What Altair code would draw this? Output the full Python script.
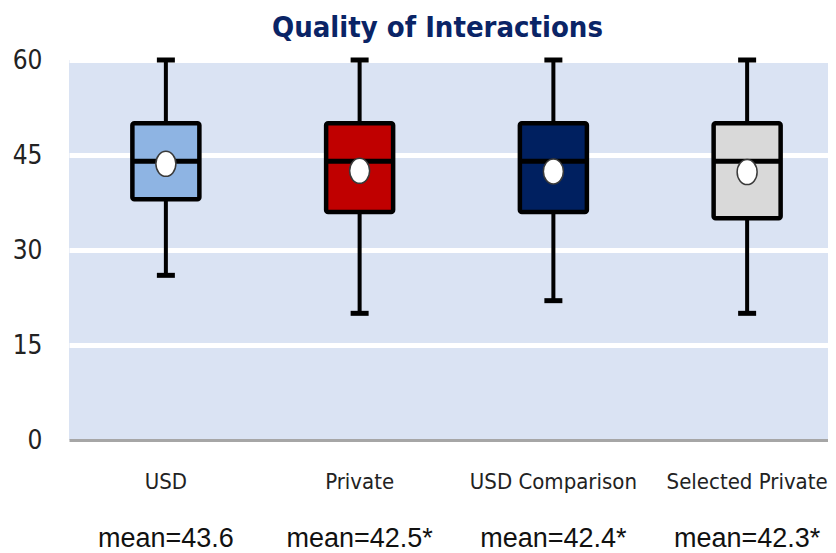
import altair as alt
import pandas as pd

categories = ["USD", "Private", "USD Comparison", "Selected Private"]
whisker_low = [26, 20, 22, 20]
quartile_1 = [38, 36, 36, 35]
medians = [44, 44, 44, 44]
quartile_3 = [50, 50, 50, 50]
whisker_high = [60, 60, 60, 60]
means = [43.6, 42.5, 42.4, 42.3]
mean_labels = ["mean=43.6", "mean=42.5*", "mean=42.4*", "mean=42.3*"]
box_colors = ["#8eb4e3", "#c00000", "#002060", "#d9d9d9"]
y_ticks = [0, 15, 30, 45, 60]

df = pd.DataFrame({
    "cat": categories,
    "lo": whisker_low,
    "q1": quartile_1,
    "med": medians,
    "q3": quartile_3,
    "hi": whisker_high,
    "mean": means,
    "label": mean_labels,
})

LABEL_FONT = "DejaVu Sans Condensed"

x_enc = alt.X(
    "cat:N",
    sort=categories,
    scale=alt.Scale(domain=categories, paddingInner=0, paddingOuter=0, range=[0, 775]),
    axis=alt.Axis(
        title=None, labelAngle=0, ticks=False, labelPadding=31,
        labelFont=LABEL_FONT, labelFontSize=22, labelColor="#222222",
        domainColor="#a6a6a6", domainWidth=3, grid=False,
    ),
)

y_axis = alt.Axis(
    title=None, values=y_ticks, ticks=False, domain=False, labelPadding=27,
    labelFont=LABEL_FONT, labelFontSize=26, labelColor="#222222",
    gridColor=alt.condition("datum.value === 0", alt.value("transparent"), alt.value("white")),
    gridWidth=5,
)
y_scale = alt.Scale(domain=[0, 60], nice=False, zero=True)


def yq(field):
    return alt.Y(f"{field}:Q", scale=y_scale, axis=y_axis)


base = alt.Chart(df)

whiskers = base.mark_rule(color="black", strokeWidth=4).encode(
    x=x_enc, y=yq("lo"), y2="hi:Q"
)
cap_low = base.mark_tick(color="black", size=18, thickness=5, opacity=1).encode(
    x=x_enc, y=yq("lo")
)
cap_high = base.mark_tick(color="black", size=18, thickness=5, opacity=1).encode(
    x=x_enc, y=yq("hi")
)
boxes = base.mark_bar(size=67, stroke="black", strokeWidth=4.5, cornerRadius=2, opacity=1).encode(
    x=x_enc,
    y=yq("q1"),
    y2="q3:Q",
    fill=alt.Fill("cat:N", scale=alt.Scale(domain=categories, range=box_colors), legend=None),
)
median_line = base.mark_tick(color="black", size=67, thickness=5, opacity=1).encode(
    x=x_enc, y=yq("med")
)
ellipse = "M -0.8 0 A 0.8 1 0 1 1 0.8 0 A 0.8 1 0 1 1 -0.8 0 Z"
mean_pts = base.mark_point(
    shape=ellipse, size=625, filled=True, fill="white", stroke="#3a3a3a",
    strokeWidth=1.5, opacity=1,
).encode(x=x_enc, y=yq("mean"))
mean_text = base.mark_text(
    font="Liberation Sans", fontSize=27, baseline="middle", align="center", color="#111111"
).encode(x=x_enc, y=alt.value(479), text="label:N")

chart = alt.layer(
    whiskers, cap_low, cap_high, boxes, median_line, mean_pts, mean_text
).properties(
    width=759,
    height=380,
    autosize=alt.AutoSizeParams(type="none"),
    padding={"left": 61, "top": 52, "right": 0, "bottom": 112},
    title=alt.TitleParams(
        "Quality of Interactions", font=LABEL_FONT, fontSize=29, fontWeight="bold",
        color="#0a2466", anchor="middle", frame="group", baseline="alphabetic",
        offset=-19, dx=-11,
    ),
).configure(
    background="white",
    view=alt.ViewConfig(fill="#dae3f3", strokeWidth=0),
)

chart.save("out.html", embed_options={"renderer": "svg", "actions": False})
